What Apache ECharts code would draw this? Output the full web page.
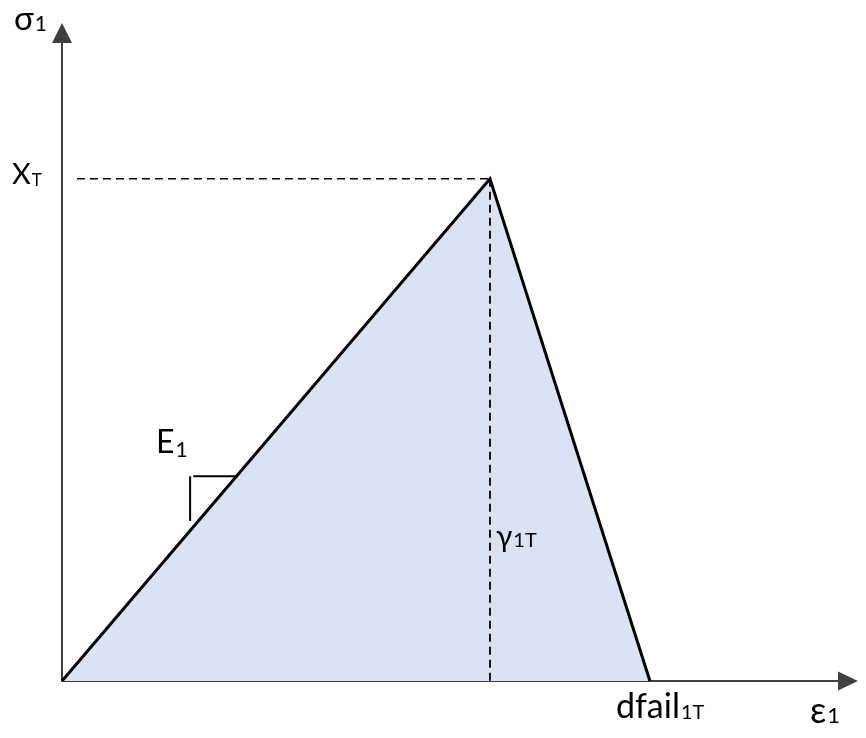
<!DOCTYPE html>
<html>
<head>
<meta charset="utf-8">
<script src="https://cdn.jsdelivr.net/npm/echarts@6/dist/echarts.min.js"></script>
<style>
  html, body { margin: 0; padding: 0; background: #ffffff; }
  #chart { width: 866px; height: 738px; }
</style>
</head>
<body>
<div id="chart"></div>
<script>
// Bilinear stress–strain law (tension, fibre direction), in arbitrary units
const responseStrain = [0, 54.45, 74.8];    // origin, peak (X_T), dfail_1T
const responseStress = [0, 77.5, 0];

// Dashed guides marking the strength X_T and the strain at peak
const guideHStrain = [1.9, 54.45];
const guideHStress = [77.5, 77.5];
const guideVStrain = [54.45, 54.45];
const guideVStress = [77.5, 0];

// Slope indicator for E_1
const slopeVStrain = [16.3, 16.3];
const slopeVStress = [24.7, 31.6];
const slopeHStrain = [16.7, 22.1];
const slopeHStress = [31.6, 31.6];

const pairs = (xs, ys) => xs.map((x, i) => [x, ys[i]]);

const FONT = 'Lato, "Open Sans", sans-serif';
const INK = '#000000';

const measureCtx = document.createElement('canvas').getContext('2d');
function textWidth(text, size) {
  measureCtx.font = size + 'px ' + FONT;
  return measureCtx.measureText(text).width;
}

function textEl(x, y, text, size) {
  return {
    type: 'text', x: x, y: y, z: 100,
    style: {
      text: text, fill: INK, fontSize: size, fontFamily: FONT,
      align: 'left', verticalAlign: 'middle'
    }
  };
}

// Symbol with a subscript placed right after it and slightly lower
function subscripted(x, y, main, size, sub, subSize, drop) {
  const gap = textWidth(main, size) + 1;
  return [textEl(x, y, main, size), textEl(x + gap, y + drop, sub, subSize)];
}

const chart = echarts.init(document.getElementById('chart'), null, { renderer: 'canvas' });

chart.setOption({
  animation: false,
  backgroundColor: '#ffffff',
  grid: { left: 62, right: 18, top: 33, bottom: 57, containLabel: false },
  xAxis: {
    type: 'value', min: 0, max: 100,
    axisLine: { show: true, symbol: ['none', 'triangle'], symbolSize: [19, 20],
      lineStyle: { color: '#404040', width: 2 } },
    axisTick: { show: false }, axisLabel: { show: false }, splitLine: { show: false }
  },
  yAxis: {
    type: 'value', min: 0, max: 100,
    axisLine: { show: true, symbol: ['none', 'triangle'], symbolSize: [20, 20],
      lineStyle: { color: '#404040', width: 2 } },
    axisTick: { show: false }, axisLabel: { show: false }, splitLine: { show: false }
  },
  series: [
    {
      type: 'line', data: pairs(responseStrain, responseStress),
      showSymbol: false, z: 3,
      lineStyle: { color: INK, width: 3, join: 'miter' },
      areaStyle: { color: '#dae3f3', opacity: 1 }
    },
    {
      type: 'line', data: pairs(guideHStrain, guideHStress),
      showSymbol: false, z: 4,
      lineStyle: { color: INK, width: 1.6, type: [8, 5] }
    },
    {
      type: 'line', data: pairs(guideVStrain, guideVStress),
      showSymbol: false, z: 4,
      lineStyle: { color: INK, width: 1.8, type: [8, 5] }
    },
    {
      type: 'line', data: pairs(slopeVStrain, slopeVStress),
      showSymbol: false, z: 4,
      lineStyle: { color: INK, width: 2 }
    },
    {
      type: 'line', data: pairs(slopeHStrain, slopeHStress),
      showSymbol: false, z: 4,
      lineStyle: { color: INK, width: 2 }
    }
  ],
  graphic: [].concat(
    subscripted(14, 19, 'σ', 33, '1', 21, 5),
    subscripted(12, 175, 'X', 29, 'T', 17, 6),
    subscripted(156, 443, 'E', 32, '1', 21, 7),
    subscripted(496, 537, 'γ', 30, '1T', 20, 4),
    subscripted(616, 707, 'dfail', 34, '1T', 20, 6),
    subscripted(810, 711, 'ε', 36, '1', 22, 5)
  )
});
</script>
</body>
</html>
